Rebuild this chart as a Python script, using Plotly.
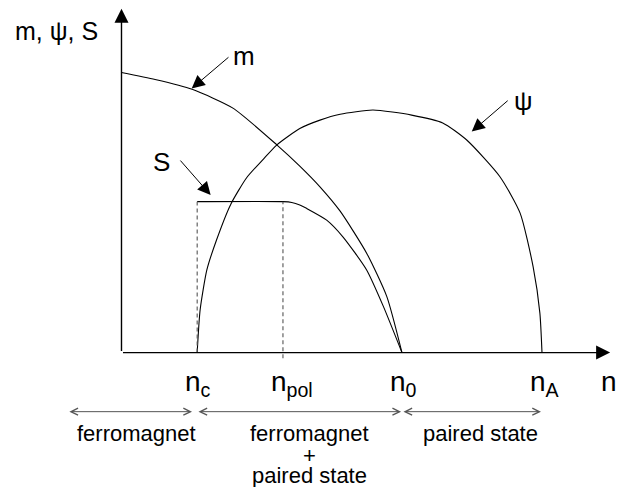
import plotly.graph_objects as go

# critical densities (nA = 1)
nc = 0.18
npol = 0.384
n0 = 0.667
nA = 1.0

# magnetization m(n)
n_m = [0.0, 0.08, 0.168, 0.265, 0.37, 0.424, 0.472, 0.52, 0.583, 0.631, 0.667]
m_vals = [1.0, 0.975, 0.940, 0.873, 0.741, 0.666, 0.592, 0.505, 0.355, 0.200, 0.0]

# pairing amplitude psi(n)
n_psi = [0.18, 0.187, 0.203, 0.226, 0.26, 0.298, 0.337, 0.369, 0.424, 0.472, 0.52,
         0.598, 0.69, 0.764, 0.821, 0.90, 0.948, 0.979, 0.995, 1.0]
psi_vals = [0.0, 0.152, 0.295, 0.402, 0.530, 0.625, 0.690, 0.741, 0.800, 0.830, 0.851,
            0.866, 0.848, 0.82, 0.759, 0.628, 0.498, 0.306, 0.141, 0.0]

# S(n)
n_S = [0.18, 0.384, 0.405, 0.424, 0.44, 0.488, 0.527, 0.583, 0.623, 0.667]
S_vals = [0.539, 0.539, 0.536, 0.527, 0.515, 0.473, 0.4125, 0.295, 0.164, 0.0]

tick_pos = [nc, npol, n0, nA, 1.169]
tick_text = ["n<sub>c</sub>", "n<sub>pol</sub>", "n<sub>0</sub>", "n<sub>A</sub>", "n"]

regions = [(-0.1275, 0.1677), (0.1795, 0.665), (0.667, 0.9976)]
region_lines = [["ferromagnet"], ["ferromagnet", "+", "paired state"], ["paired state"]]
region_mid = [0.0358, 0.446, 0.853]

FONT = "Liberation Sans, Arial, sans-serif"
line = dict(color="black", width=1.1)

fig = go.Figure()
fig.add_trace(go.Scatter(x=n_m, y=m_vals, mode="lines", line=dict(shape="spline", smoothing=0.6, **line)))
fig.add_trace(go.Scatter(x=n_psi, y=psi_vals, mode="lines", line=dict(shape="spline", smoothing=0.6, **line)))
fig.add_trace(go.Scatter(x=n_S, y=S_vals, mode="lines", line=dict(shape="spline", smoothing=0.6, **line)))

# dashed guides at nc and npol
fig.add_trace(go.Scatter(x=[nc, nc], y=[0, S_vals[0]], mode="lines",
                         line=dict(color="#555", width=1.1, dash="4px,3px")))
fig.add_trace(go.Scatter(x=[npol, npol], y=[-0.02, S_vals[1]], mode="lines",
                         line=dict(color="#555", width=1.1, dash="4px,3px")))

ann = []
# axes with arrows
ann.append(dict(x=0, y=1.228, ax=0, ay=0, axref="x", ayref="y", showarrow=True, text="",
                arrowhead=2, arrowsize=2.0, arrowwidth=1.4, arrowcolor="black"))
ann.append(dict(x=1.162, y=0, ax=0, ay=0, axref="x", ayref="y", showarrow=True, text="",
                arrowhead=2, arrowsize=2.0, arrowwidth=1.4, arrowcolor="black"))

# curve labels with pointers
pointers = [("m", 0.291, 1.059, 0.258, 1.059, 0.167, 0.943),
            ("\u03c8", 0.957, 0.898, 0.922, 0.904, 0.833, 0.789),
            ("S", 0.096, 0.680, 0.137, 0.691, 0.212, 0.5625)]
for txt, tx, ty, x0, y0, x1, y1 in pointers:
    ann.append(dict(x=tx, y=ty, text=txt, showarrow=False, font=dict(size=26, family=FONT, color="black")))
    ann.append(dict(x=x1, y=y1, ax=x0, ay=y0, axref="x", ayref="y", showarrow=True, text="",
                    arrowhead=2, arrowsize=2.6, arrowwidth=1.0, arrowcolor="black"))

ann.append(dict(x=-0.258, y=1.148, text="m, \u03c8, S", showarrow=False, xanchor="left",
                font=dict(size=25, family=FONT, color="black")))

for p, t in zip(tick_pos, tick_text):
    ann.append(dict(x=p, y=-0.04, text=t, showarrow=False, xanchor="left", yanchor="top",
                    xshift=-14, font=dict(size=28, family=FONT, color="black")))

line_y = [-0.289, -0.368, -0.44]
for (a, b), lines_, mid in zip(regions, region_lines, region_mid):
    ann.append(dict(x=b, y=-0.211, ax=a, ay=-0.211, axref="x", ayref="y", showarrow=True, text="",
                    arrowhead=5, startarrowhead=5, arrowside="end+start", arrowsize=1.4,
                    startarrowsize=1.4, arrowwidth=1.0, arrowcolor="#555"))
    for k, t in enumerate(lines_):
        ann.append(dict(x=mid, y=line_y[k], text=t, showarrow=False,
                        font=dict(size=22, family=FONT, color="black")))

# the page body has an 8px margin, so the figure is 8px smaller and ranges start 8px in
fig.update_layout(
    width=618, height=479,
    margin=dict(l=0, r=0, t=0, b=0, pad=0, autoexpand=False),
    paper_bgcolor="white", plot_bgcolor="white",
    showlegend=False,
    annotations=ann,
    xaxis=dict(range=[-0.2699, 1.1998], visible=False),
    yaxis=dict(range=[-0.480, 1.2304], visible=False),
)

fig.write_html("out.html")
